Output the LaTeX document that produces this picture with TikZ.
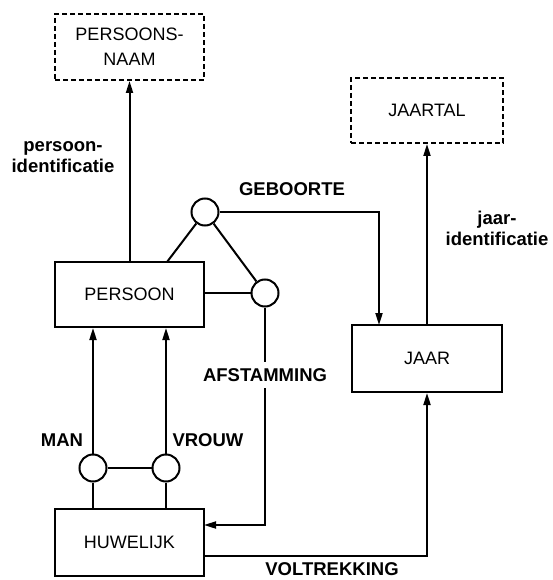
\documentclass[tikz,border=0pt]{standalone}
\usepackage{fontspec}
\setmainfont{Liberation Sans}
\usetikzlibrary{arrows.meta}

\begin{document}
\begin{tikzpicture}[x=1pt,y=-1pt,
  ent/.style={draw, line width=2pt, minimum width=149pt, minimum height=66pt,
              inner sep=0pt, align=center, font=\fontsize{18}{25}\selectfont},
  dashent/.style={ent, dash pattern=on 5pt off 3pt},
  role/.style={draw, circle, line width=2pt, minimum size=27pt, inner sep=0pt, fill=white},
  lab/.style={align=center, inner sep=1pt, font=\bfseries\fontsize{18.5}{21}\selectfont},
  link/.style={line width=2pt},
  arr/.style={link, -{Triangle[length=12pt,width=7pt]}},
]
\useasboundingbox (0,0) rectangle (552,580);

% entity types
\node[dashent] (naam)    at (129.5,47)    {PERSOONS-\\NAAM};
\node[dashent, minimum width=152pt, minimum height=65pt] (jaartal) at (427,110.5) {JAARTAL};
\node[ent, minimum height=65pt] (persoon) at (129.5,294.5) {PERSOON};
\node[ent, minimum width=150pt, minimum height=67pt] (jaar) at (427,358.5) {JAAR};
\node[ent, minimum height=67pt] (huw)     at (129.5,542.5) {HUWELIJK};

% roles
\node[role] (geb)   at (205,212) {};
\node[role] (afs)   at (265,293) {};
\node[role] (man)   at (93,468)  {};
\node[role] (vrouw) at (166,468) {};

% attachment points
\coordinate (pgeb)  at (167,262);
\coordinate (jgeb)  at (379,325);
\coordinate (hafs)  at (204,525);
\coordinate (hvol)  at (204,556);

% identification
\draw[arr] (persoon.north) -- (naam.south);
\draw[arr] (jaar.north) -- (jaartal.south);

% GEBOORTE / AFSTAMMING
\draw[link] (geb) -- (pgeb);
\draw[link] (geb) -- (afs);
\draw[link] (persoon.east |- afs) -- (afs);
\draw[arr] (geb.east) -| (jgeb);
\draw[arr] (afs.south) |- (hafs);

% MAN / VROUW
\draw[arr] (man) -- (man |- persoon.south);
\draw[arr] (vrouw) -- (vrouw |- persoon.south);
\draw[link] (man) -- (man |- huw.north);
\draw[link] (vrouw) -- (vrouw |- huw.north);
\draw[link] (man) -- (vrouw);

% VOLTREKKING
\draw[arr] (hvol) -| (jaar.south);

% labels
\node[lab] (lpid) at (63,157)  {persoon-\\identificatie};
\node[lab] (ljid) at (497,228) {jaar-\\identificatie};
\node[lab] (lgeb) at (292,189) {GEBOORTE};
\node[lab, fill=white, inner sep=6pt] (lafs) at (265,375) {AFSTAMMING};
\node[lab] (lman) at (62,440)  {MAN};
\node[lab] (lvro) at (208,440) {VROUW};
\node[lab] (lvol) at (332,569) {VOLTREKKING};
\end{tikzpicture}
\end{document}
